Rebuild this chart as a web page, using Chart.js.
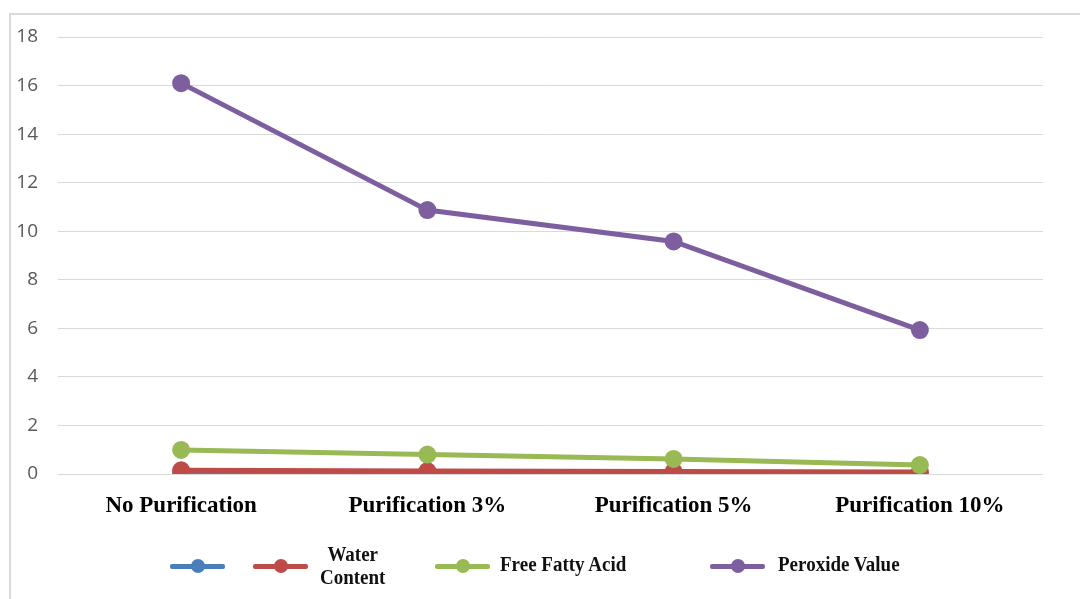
<!DOCTYPE html>
<html>
<head>
<meta charset="utf-8">
<script src="https://cdn.jsdelivr.net/npm/chart.js@4/dist/chart.umd.min.js"></script>
<style>
  html, body { margin: 0; padding: 0; background: #fff; }
  #wrap { position: relative; width: 1080px; height: 599px; overflow: hidden; }
  #frame { position: absolute; left: 9px; top: 13px; width: 1100px; height: 620px;
           border-top: 2px solid #d9d9d9; border-left: 2px solid #d9d9d9; }
  canvas { position: absolute; left: 0; top: 0; }
  .leg { position: absolute; font-family: "Liberation Serif", "Times New Roman", serif;
         font-size: 19px; font-weight: bold; color: #111; transform: scaleY(1.08); }
  .mark { position: absolute; height: 5px; width: 55px; border-radius: 2px; }
  .mark::after { content: ""; position: absolute; left: 21px; top: -5px; width: 14px; height: 14px;
                 border-radius: 50%; background: inherit; }
</style>
</head>
<body>
<div id="wrap">
  <div id="frame"></div>
  <canvas id="myChart" width="1080" height="599"></canvas>
  <div id="legend"></div>
</div>
<script>
const categories = ["No Purification", "Purification 3%", "Purification 5%", "Purification 10%"];
const blankSeries = [0.03, 0.02, 0.02, 0.01];
const waterContent = [0.15, 0.12, 0.1, 0.08];
const freeFattyAcid = [0.99, 0.8, 0.62, 0.37];
const peroxideValue = [16.1, 10.87, 9.58, 5.93];

const colors = ["#4a7ebb", "#be4b48", "#98b954", "#7d5fa0"];
const labels = ["", "Water\nContent", "Free Fatty Acid", "Peroxide Value"];
const series = [blankSeries, waterContent, freeFattyAcid, peroxideValue];

const datasets = series.map((data, i) => ({
  label: labels[i],
  data: data,
  borderColor: colors[i],
  backgroundColor: colors[i],
  borderWidth: 5,
  pointRadius: 6.5,
  pointHoverRadius: 6.5,
  tension: 0,
  order: series.length - i,
}));

// legend positions (left of marker, left of text) as in the original
const legendPos = [[170, 0], [253, 320], [435, 500], [710, 778]];
const legend = document.getElementById("legend");
legendPos.forEach((p, i) => {
  const m = document.createElement("div");
  m.className = "mark";
  m.style.left = p[0] + "px";
  m.style.top = "564px";
  m.style.background = colors[i];
  legend.appendChild(m);
  if (labels[i]) {
    const t = document.createElement("div");
    t.className = "leg";
    t.style.left = p[1] + "px";
    const lines = labels[i].split("\n");
    t.style.top = (lines.length > 1 ? 544 : 554) + "px";
    t.style.textAlign = "center";
    t.style.lineHeight = "22px";
    t.innerHTML = lines.join("<br>");
    legend.appendChild(t);
  }
});

const ctx = document.getElementById("myChart");
const chart = new Chart(ctx, {
  type: "line",
  data: {
    labels: categories,
    datasets: datasets,
  },
  options: {
    responsive: false,
    animation: false,
    layout: {
      padding: { top: 37, right: 37, left: 0, bottom: 0 },
    },
    plugins: {
      legend: { display: false },
      tooltip: { enabled: false },
    },
    scales: {
      x: {
        offset: true,
        grid: { display: false },
        border: { display: false },
        afterFit: (scale) => { scale.height = 125; },
        ticks: {
          padding: 10,
          color: "#000",
          font: { family: "'Liberation Serif', 'Times New Roman', serif", size: 23, weight: "bold" },
        },
      },
      y: {
        min: 0,
        max: 18,
        afterFit: (scale) => { scale.width = 58; },
        grid: { color: "#d9d9d9", drawTicks: false },
        border: { display: false },
        ticks: {
          stepSize: 2,
          padding: 20,
          color: "#595959",
          font: { family: "'Open Sans', 'DejaVu Sans', sans-serif", size: 19 },
        },
      },
    },
  },
});
</script>
</body>
</html>
